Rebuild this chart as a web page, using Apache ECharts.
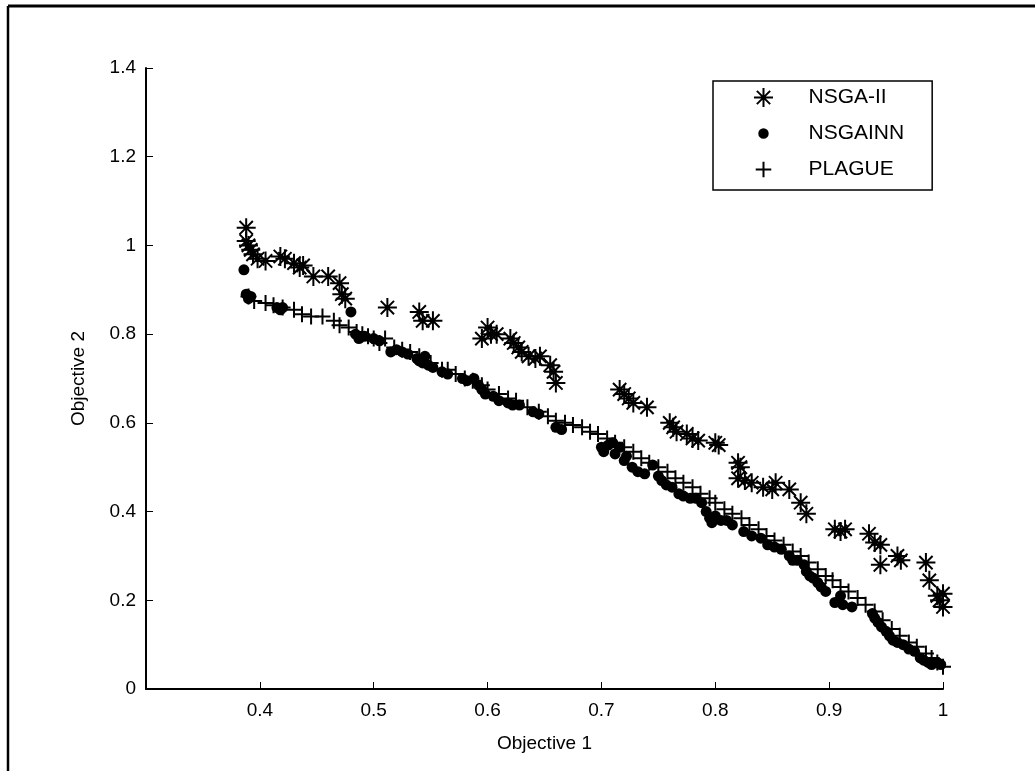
<!DOCTYPE html>
<html>
<head>
<meta charset="utf-8">
<title>Objective 1 vs Objective 2</title>
<script src="https://cdn.jsdelivr.net/npm/echarts@6/dist/echarts.min.js"></script>
<style>
  html, body { margin: 0; padding: 0; background: #fff; }
  #chart { width: 1035px; height: 771px; }
</style>
</head>
<body>
<div id="chart"></div>
<script>
// Series names
const seriesNames = ['NSGA-II', 'NSGAINN', 'PLAGUE'];

// Axis ticks
const xTicks = [0.4, 0.5, 0.6, 0.7, 0.8, 0.9, 1];
const yTicks = [0, 0.2, 0.4, 0.6, 0.8, 1, 1.2, 1.4];

// NSGA-II front: [objective 1, objective 2]
const nsga2Points = [
  [0.388, 1.04], [0.388, 1.01], [0.39, 1.00], [0.392, 0.99], [0.394, 0.98], [0.398, 0.97],
  [0.405, 0.965], [0.418, 0.975], [0.422, 0.97], [0.43, 0.96], [0.435, 0.95], [0.438, 0.955],
  [0.447, 0.93], [0.46, 0.93], [0.47, 0.915], [0.472, 0.89], [0.475, 0.88],
  [0.512, 0.86], [0.54, 0.85], [0.543, 0.83], [0.552, 0.83],
  [0.595, 0.79], [0.60, 0.815], [0.603, 0.80], [0.608, 0.80], [0.62, 0.79], [0.623, 0.78],
  [0.627, 0.77], [0.63, 0.76], [0.636, 0.75], [0.642, 0.745], [0.646, 0.75],
  [0.655, 0.73], [0.658, 0.715], [0.66, 0.69],
  [0.716, 0.675], [0.72, 0.665], [0.724, 0.655], [0.728, 0.645], [0.74, 0.635],
  [0.76, 0.60], [0.763, 0.59], [0.766, 0.58], [0.775, 0.575], [0.78, 0.565], [0.785, 0.56],
  [0.80, 0.555], [0.803, 0.55],
  [0.82, 0.51], [0.822, 0.50], [0.82, 0.475], [0.826, 0.47], [0.832, 0.465], [0.842, 0.455],
  [0.85, 0.45], [0.853, 0.465], [0.865, 0.45], [0.875, 0.42], [0.88, 0.395],
  [0.905, 0.36], [0.91, 0.355], [0.914, 0.36],
  [0.935, 0.35], [0.94, 0.33], [0.945, 0.325], [0.945, 0.28], [0.96, 0.30], [0.963, 0.29],
  [0.985, 0.285], [0.988, 0.245], [0.995, 0.21], [0.997, 0.20], [1.0, 0.215], [1.0, 0.185]
];

// NSGAINN front
const nsgainnPoints = [
  [0.386, 0.945], [0.388, 0.89], [0.39, 0.88], [0.392, 0.885], [0.415, 0.86], [0.418, 0.855], [0.42, 0.86],
  [0.48, 0.85], [0.484, 0.80], [0.487, 0.79], [0.492, 0.795], [0.50, 0.79], [0.505, 0.785],
  [0.515, 0.76], [0.52, 0.765], [0.525, 0.76], [0.53, 0.755], [0.538, 0.745], [0.54, 0.74],
  [0.543, 0.735], [0.545, 0.75], [0.548, 0.73], [0.552, 0.725], [0.56, 0.715], [0.565, 0.71],
  [0.578, 0.70], [0.582, 0.695], [0.588, 0.70], [0.592, 0.685], [0.595, 0.675], [0.598, 0.665],
  [0.605, 0.66], [0.61, 0.65], [0.618, 0.645], [0.622, 0.64], [0.628, 0.64], [0.64, 0.625],
  [0.645, 0.62], [0.66, 0.59], [0.665, 0.585],
  [0.70, 0.545], [0.702, 0.535], [0.706, 0.55], [0.71, 0.555], [0.712, 0.53], [0.716, 0.545],
  [0.72, 0.515], [0.722, 0.525], [0.727, 0.50], [0.732, 0.49], [0.738, 0.485], [0.745, 0.505],
  [0.75, 0.48], [0.753, 0.47], [0.757, 0.46], [0.762, 0.455], [0.768, 0.44], [0.772, 0.435],
  [0.778, 0.43], [0.783, 0.43], [0.788, 0.42], [0.792, 0.40], [0.795, 0.385], [0.797, 0.375],
  [0.80, 0.39], [0.805, 0.38], [0.81, 0.38], [0.815, 0.37], [0.825, 0.355], [0.832, 0.345],
  [0.84, 0.34], [0.846, 0.325], [0.852, 0.32], [0.858, 0.315], [0.865, 0.30], [0.868, 0.29],
  [0.872, 0.29], [0.878, 0.28], [0.88, 0.265], [0.883, 0.255], [0.886, 0.25], [0.89, 0.24],
  [0.893, 0.23], [0.897, 0.22], [0.905, 0.195], [0.91, 0.21], [0.912, 0.19], [0.92, 0.185],
  [0.938, 0.17], [0.94, 0.16], [0.943, 0.15], [0.946, 0.14], [0.95, 0.13], [0.953, 0.12],
  [0.956, 0.11], [0.96, 0.105], [0.965, 0.10], [0.97, 0.09], [0.975, 0.085], [0.98, 0.07],
  [0.983, 0.065], [0.987, 0.06], [0.99, 0.055], [0.995, 0.06], [0.998, 0.055]
];

// PLAGUE front
const plaguePoints = [
  [0.39, 0.885], [0.395, 0.875], [0.405, 0.87], [0.412, 0.865], [0.42, 0.86], [0.43, 0.855],
  [0.437, 0.845], [0.445, 0.84], [0.455, 0.84], [0.465, 0.83], [0.47, 0.82], [0.478, 0.815],
  [0.485, 0.805], [0.49, 0.80], [0.495, 0.795], [0.50, 0.79], [0.505, 0.78], [0.51, 0.79],
  [0.518, 0.77], [0.525, 0.765], [0.532, 0.76], [0.54, 0.75], [0.55, 0.735], [0.56, 0.72],
  [0.565, 0.72], [0.572, 0.71], [0.58, 0.70], [0.587, 0.695], [0.595, 0.685], [0.60, 0.675],
  [0.61, 0.665], [0.618, 0.655], [0.625, 0.65], [0.635, 0.635], [0.645, 0.625], [0.653, 0.615],
  [0.66, 0.605], [0.668, 0.60], [0.675, 0.595], [0.683, 0.59], [0.69, 0.58], [0.697, 0.575],
  [0.705, 0.565], [0.712, 0.555], [0.72, 0.545], [0.728, 0.535], [0.735, 0.52], [0.742, 0.51],
  [0.75, 0.50], [0.758, 0.49], [0.765, 0.475], [0.772, 0.465], [0.78, 0.455], [0.787, 0.44],
  [0.795, 0.43], [0.80, 0.42], [0.808, 0.405], [0.815, 0.395], [0.823, 0.385], [0.83, 0.37],
  [0.838, 0.36], [0.845, 0.345], [0.852, 0.335], [0.86, 0.325], [0.868, 0.31], [0.875, 0.30],
  [0.882, 0.285], [0.89, 0.27], [0.897, 0.255], [0.903, 0.245], [0.91, 0.23], [0.917, 0.22],
  [0.925, 0.205], [0.932, 0.19], [0.94, 0.175], [0.947, 0.155], [0.955, 0.135], [0.962, 0.12],
  [0.97, 0.105], [0.977, 0.095], [0.985, 0.08], [0.99, 0.07], [0.995, 0.06], [1.0, 0.05]
];

// Marker shapes: eight-armed asterisk and plus, drawn as strokes
const asteriskPath = 'path://M0,10L20,10M10,0L10,20M3,3L17,17M17,3L3,17';
const plusPath = 'path://M0,10L20,10M10,0L10,20';
// Legend icons: same shapes, padded so they keep their relative sizes in the key
const asteriskIcon = 'path://M0,0M20,20M0,10L20,10M10,0L10,20M3,3L17,17M17,3L3,17';
const plusIcon = 'path://M0,0M22,22M2,11L20,11M11,2L11,20';
const dotIcon = 'path://M0,0M20,20M10,4.5A5.5,5.5,0,1,1,9.99,4.5Z';

const FONT = '"Liberation Sans", Arial, sans-serif';

const chart = echarts.init(document.getElementById('chart'), null, { renderer: 'canvas' });

const strokeStyle = { color: 'rgba(0,0,0,0)', borderColor: '#000', borderWidth: 2, opacity: 1 };

chart.setOption({
  backgroundColor: '#fff',
  animation: false,
  textStyle: { fontFamily: FONT, color: '#000' },
  grid: { left: 146, right: 92, top: 68, bottom: 82 },
  legend: {
    orient: 'vertical',
    left: 713,
    top: 81,
    data: [
      { name: seriesNames[0], icon: asteriskIcon },
      { name: seriesNames[1], icon: dotIcon },
      { name: seriesNames[2], icon: plusIcon }
    ],
    itemWidth: 80,
    itemHeight: 19,
    itemGap: 15,
    padding: [6, 28, 10, 40],
    borderColor: '#000',
    borderWidth: 1.5,
    backgroundColor: '#fff',
    selectedMode: false,
    textStyle: { fontFamily: FONT, fontSize: 21, color: '#000' }
  },
  xAxis: {
    type: 'value',
    min: 0.3,
    max: 1,
    interval: 0.1,
    name: 'Objective 1',
    nameLocation: 'middle',
    nameGap: 45,
    nameTextStyle: { fontFamily: FONT, fontSize: 19, color: '#000' },
    axisLine: { show: true, onZero: false, lineStyle: { color: '#000', width: 2 } },
    axisTick: { show: true, inside: true, length: 7, lineStyle: { color: '#000', width: 1 } },
    axisLabel: {
      fontFamily: FONT, fontSize: 19, color: '#000', margin: 12,
      formatter: function (v) {
        const hit = xTicks.find(t => Math.abs(t - v) < 1e-6);
        return hit === undefined ? '' : String(hit);
      }
    },
    splitLine: { show: false }
  },
  yAxis: {
    type: 'value',
    min: 0,
    max: 1.4,
    interval: 0.2,
    name: 'Objective 2',
    nameLocation: 'middle',
    nameGap: 58,
    nameTextStyle: { fontFamily: FONT, fontSize: 19, color: '#000' },
    axisLine: { show: true, onZero: false, lineStyle: { color: '#000', width: 2 } },
    axisTick: { show: true, inside: true, length: 7, lineStyle: { color: '#000', width: 1 } },
    axisLabel: {
      fontFamily: FONT, fontSize: 19, color: '#000', margin: 10,
      formatter: function (v) {
        const hit = yTicks.find(t => Math.abs(t - v) < 1e-6);
        return hit === undefined ? '' : String(hit);
      }
    },
    splitLine: { show: false }
  },
  series: [
    {
      name: seriesNames[0],
      type: 'scatter',
      data: nsga2Points,
      symbol: asteriskPath,
      symbolSize: 19,
      symbolKeepAspect: true,
      itemStyle: strokeStyle,
      emphasis: { disabled: true },
      z: 3
    },
    {
      name: seriesNames[1],
      type: 'scatter',
      data: nsgainnPoints,
      symbol: 'circle',
      symbolSize: 11,
      symbolKeepAspect: true,
      itemStyle: { color: '#000', opacity: 1 },
      emphasis: { disabled: true },
      z: 2
    },
    {
      name: seriesNames[2],
      type: 'scatter',
      data: plaguePoints,
      symbol: plusPath,
      symbolSize: 16,
      symbolKeepAspect: true,
      itemStyle: strokeStyle,
      emphasis: { disabled: true },
      z: 2
    }
  ],
  graphic: [
    // figure frame: top and left edges
    { type: 'line', shape: { x1: 8, y1: 6, x2: 1035, y2: 6 }, style: { stroke: '#000', lineWidth: 3 } },
    { type: 'line', shape: { x1: 8, y1: 6, x2: 8, y2: 771 }, style: { stroke: '#000', lineWidth: 2.5 } }
  ]
});
</script>
</body>
</html>
